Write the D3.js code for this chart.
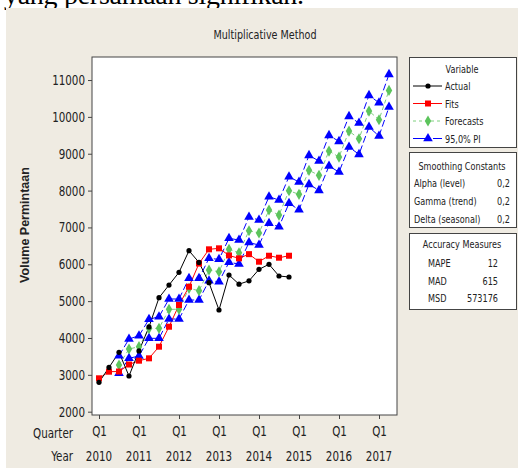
<!DOCTYPE html>
<html>
<head>
<meta charset="utf-8">
<script src="https://cdn.jsdelivr.net/npm/d3@7"></script>
<style>
  body { margin: 0; background: #fff; }
  svg text { font-family: "DejaVu Sans Condensed", "DejaVu Sans", sans-serif; font-stretch: condensed; fill: #222; }
</style>
</head>
<body>
<svg width="518" height="468"></svg>
<script>
// actual data 2010Q1 .. 2014Q4 (index 0..19)
const actual = [2797, 3200, 3611, 2968, 3650, 4300, 5093, 5437, 5782, 6368,
                6050, 5500, 4759, 5709, 5460, 5550, 5863, 5999, 5682, 5655];
const fits = [2906, 3085, 3090, 3280, 3384, 3448, 3764, 4306, 4895, 5391,
              6020, 6406, 6433, 6240, 6161, 6275, 6070, 6232, 6178, 6232];
// forecasts + PI start at index 2 (2010Q3) and run to 2017Q2
const fcStart = 2;
const forecasts = [3267, 3701, 3764, 4254, 4263, 4778, 4778, 5347, 5283, 5844,
                   5798, 6406, 6314, 6911, 6850, 7472, 7336, 7996, 7898, 8549,
                   8413, 9073, 8910, 9615, 9407, 10158, 9922, 10719];
const upperPI = [3519, 3972, 4062, 4507, 4577, 5058, 5058, 5619, 5619, 6161,
                 6134, 6704, 6658, 7282, 7201, 7833, 7743, 8376, 8232, 8956,
                 8801, 9498, 9335, 10014, 9832, 10583, 10383, 11153];
const lowerPI = [3042, 3448, 3511, 3991, 3991, 4515, 4515, 5030, 5030, 5554,
                 5527, 6053, 6007, 6590, 6522, 7111, 7019, 7654, 7480, 8169,
                 8006, 8666, 8503, 9181, 8983, 9724, 9480, 10266];

const yTicks = [2000, 3000, 4000, 5000, 6000, 7000, 8000, 9000, 10000, 11000];
const years = [2010, 2011, 2012, 2013, 2014, 2015, 2016, 2017];

const smoothing = [['Alpha (level)', '0,2'], ['Gamma (trend)', '0,2'], ['Delta (seasonal)', '0,2']];
const accuracy = [['MAPE', '12'], ['MAD', '615'], ['MSD', '573176']];

const svg = d3.select('svg');

// page background bits
svg.append('text')
    .attr('x', 4).attr('y', 4)
    .style('font-family', '"Liberation Serif", serif')
    .style('font-stretch', 'normal')
    .style('font-size', '28px')
    .style('fill', '#000')
    .attr('textLength', 300)
    .text('yang persamaan signifikan.');
svg.append('rect')
    .attr('x', 6).attr('y', 8).attr('width', 512).attr('height', 460)
    .attr('fill', '#efebe2');

const frame = {left: 92, right: 397, top: 57, bottom: 415};

const x = d3.scaleLinear().domain([-0.7, 29.8]).range([frame.left, frame.right]);
const y = d3.scaleLinear().domain([1910, 11625]).range([frame.bottom, frame.top]);

svg.append('rect')
    .attr('x', frame.left).attr('y', frame.top)
    .attr('width', frame.right - frame.left).attr('height', frame.bottom - frame.top)
    .attr('fill', '#fff').attr('stroke', '#444');

svg.append('text')
    .attr('class', 'n')
    .attr('x', 265).attr('y', 39)
    .attr('text-anchor', 'middle')
    .style('font-size', '13px')
    .text('Multiplicative Method');

// y axis
const yAxis = svg.append('g')
    .attr('transform', `translate(${frame.left},0)`)
    .call(d3.axisLeft(y).tickValues(yTicks).tickFormat(d3.format('d')).tickSize(4).tickPadding(3));
yAxis.select('.domain').remove();
yAxis.selectAll('.tick line').attr('stroke', '#444');
yAxis.selectAll('text')
    .attr('class', 'n')
    .style('font-size', '14px')
    .style('font-family', null)
    .attr('fill', '#222');

svg.append('text')
    .attr('transform', 'translate(29,225) rotate(-90)')
    .attr('text-anchor', 'middle')
    .style('font-family', '"Liberation Sans", Arial, sans-serif')
    .style('font-stretch', 'normal')
    .style('font-weight', 'bold')
    .style('font-size', '12.5px')
    .text('Volume Permintaan');

// x axis: Q1 ticks every year
const xTickIdx = years.map((d, i) => i * 4);
const xAxis = svg.append('g')
    .attr('transform', `translate(0,${frame.bottom})`)
    .call(d3.axisBottom(x).tickValues(xTickIdx).tickSize(4).tickFormat(() => 'Q1').tickPadding(7));
xAxis.select('.domain').remove();
xAxis.selectAll('.tick line').attr('stroke', '#444');
xAxis.selectAll('text')
    .attr('class', 'n')
    .style('font-size', '14px')
    .style('font-family', null)
    .attr('fill', '#222');

svg.selectAll('.year-label')
    .data(years)
    .enter().append('text')
    .attr('class', 'year-label n')
    .attr('x', (d, i) => x(i * 4))
    .attr('y', 461)
    .attr('text-anchor', 'middle')
    .style('font-size', '14px')
    .text(d => d);

svg.append('text').attr('class', 'n').attr('x', 73).attr('y', 438).attr('text-anchor', 'end')
    .style('font-size', '14px').text('Quarter');
svg.append('text').attr('class', 'n').attr('x', 73).attr('y', 461).attr('text-anchor', 'end')
    .style('font-size', '14px').text('Year');

// series
const plot = svg.append('g');
const line = d3.line().x(d => x(d.i)).y(d => y(d.v));

const actualPts = actual.map((v, i) => ({i, v}));
const fitsPts = fits.map((v, i) => ({i, v}));
const fcPts = forecasts.map((v, k) => ({i: k + fcStart, v}));
const upPts = upperPI.map((v, k) => ({i: k + fcStart, v}));
const loPts = lowerPI.map((v, k) => ({i: k + fcStart, v}));

const triangle = d3.symbol().type(d3.symbolTriangle).size(40);
const diamond = d3.symbol().type(d3.symbolDiamond).size(36);

// PI
[loPts, upPts].forEach(pts => {
    plot.append('path').datum(pts)
        .attr('d', line).attr('fill', 'none')
        .attr('stroke', '#0000ff').attr('stroke-width', 1)
        .attr('stroke-dasharray', '7,3');
});
// forecasts
plot.append('path').datum(fcPts)
    .attr('d', line).attr('fill', 'none')
    .attr('stroke', '#7fd07f').attr('stroke-width', 1)
    .attr('stroke-dasharray', '4,3');
// fits
plot.append('path').datum(fitsPts)
    .attr('d', line).attr('fill', 'none')
    .attr('stroke', '#ff0000').attr('stroke-width', 1);
// actual
plot.append('path').datum(actualPts)
    .attr('d', line).attr('fill', 'none')
    .attr('stroke', '#000').attr('stroke-width', 1);

plot.selectAll('.tri').data(upPts.concat(loPts)).enter()
    .append('path').attr('class', 'tri')
    .attr('d', triangle)
    .attr('transform', d => `translate(${x(d.i)},${y(d.v)})`)
    .attr('fill', '#0000ff');
plot.selectAll('.dia').data(fcPts).enter()
    .append('path').attr('class', 'dia')
    .attr('d', diamond)
    .attr('transform', d => `translate(${x(d.i)},${y(d.v)})`)
    .attr('fill', '#5cc45c');
plot.selectAll('.sq').data(fitsPts).enter()
    .append('rect').attr('class', 'sq')
    .attr('x', d => x(d.i) - 3).attr('y', d => y(d.v) - 3)
    .attr('width', 6).attr('height', 6)
    .attr('fill', '#ff0000');
plot.selectAll('.dot').data(actualPts).enter()
    .append('circle').attr('class', 'dot')
    .attr('cx', d => x(d.i)).attr('cy', d => y(d.v))
    .attr('r', 2.6)
    .attr('fill', '#000');

// legend boxes
const lg = svg.append('g');
const box = (y0, h) => lg.append('rect')
    .attr('x', 409.5).attr('y', y0).attr('width', 107).attr('height', h)
    .attr('fill', '#fff').attr('stroke', '#444');
box(57.5, 90);
box(152.5, 75);
box(233.5, 76);

const ls = '11px';
lg.append('text').attr('class', 'n').attr('x', 462).attr('y', 73).attr('text-anchor', 'middle')
    .style('font-size', ls).text('Variable');

const legendItems = [
    {name: 'Actual', color: '#000', dash: null, mark: 'circle'},
    {name: 'Fits', color: '#ff0000', dash: null, mark: 'square'},
    {name: 'Forecasts', color: '#7fd07f', dash: '3,3', mark: 'diamond'},
    {name: '95,0% PI', color: '#0000ff', dash: '16,4', mark: 'triangle'}
];
legendItems.forEach((d, k) => {
    const yy = 86 + k * 17.5;
    lg.append('line').attr('x1', 413).attr('x2', 442).attr('y1', yy).attr('y2', yy)
        .attr('stroke', d.color).attr('stroke-dasharray', d.dash);
    if (d.mark === 'circle') {
        lg.append('circle').attr('cx', 428).attr('cy', yy).attr('r', 2.6).attr('fill', d.color);
    } else if (d.mark === 'square') {
        lg.append('rect').attr('x', 425).attr('y', yy - 3).attr('width', 6).attr('height', 6).attr('fill', d.color);
    } else if (d.mark === 'diamond') {
        lg.append('path').attr('d', diamond).attr('transform', `translate(428,${yy})`).attr('fill', '#5cc45c');
    } else {
        lg.append('path').attr('d', triangle).attr('transform', `translate(428,${yy})`).attr('fill', d.color);
    }
    lg.append('text').attr('class', 'n').attr('x', 445).attr('y', yy + 4)
        .style('font-size', ls).text(d.name);
});

lg.append('text').attr('class', 'n').attr('x', 462).attr('y', 170).attr('text-anchor', 'middle')
    .style('font-size', ls).text('Smoothing Constants');
smoothing.forEach((d, k) => {
    const yy = 187 + k * 18;
    lg.append('text').attr('class', 'n').attr('x', 414).attr('y', yy).style('font-size', ls).text(d[0]);
    lg.append('text').attr('class', 'n').attr('x', 510).attr('y', yy).attr('text-anchor', 'end')
        .style('font-size', ls).text(d[1]);
});

lg.append('text').attr('class', 'n').attr('x', 462).attr('y', 248).attr('text-anchor', 'middle')
    .style('font-size', ls).text('Accuracy Measures');
accuracy.forEach((d, k) => {
    const yy = 267 + k * 17.5;
    lg.append('text').attr('class', 'n').attr('x', 428).attr('y', yy).style('font-size', ls).text(d[0]);
    lg.append('text').attr('class', 'n').attr('x', 498).attr('y', yy).attr('text-anchor', 'end')
        .style('font-size', ls).text(d[1]);
});

// squeeze the Minitab-ish labels horizontally (narrow bitmap-like font)
svg.selectAll('text.n').each(function() {
    const w = this.getComputedTextLength();
    d3.select(this).attr('textLength', w * 0.82).attr('lengthAdjust', 'spacingAndGlyphs');
});
</script>
</body>
</html>
